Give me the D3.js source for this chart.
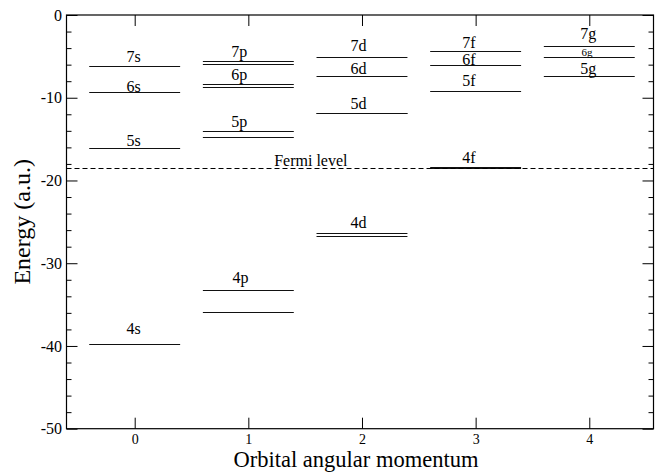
<!DOCTYPE html>
<html>
<head>
<meta charset="utf-8">
<script src="https://cdn.jsdelivr.net/npm/d3@7"></script>
<style>
  html, body { margin: 0; padding: 0; background: #fff; }
  svg { display: block; font-family: "Liberation Serif", "Times New Roman", serif; }
  text { font-family: "Liberation Serif", "Times New Roman", serif; fill: #000; }
</style>
</head>
<body>
<svg id="chart" width="655" height="472"></svg>
<script>
// Energy levels (a.u.) for each orbital angular momentum l
const sLevels = [-39.8, -16.1, -9.36, -6.17];
const pLevels = [-35.84, -33.2, -14.69, -14.04, -8.68, -8.39, -5.9, -5.6];
const dLevels = [-26.76, -26.3, -11.9, -11.8, -7.35, -5.04];
const fLevels = [-18.5, -18.4, -9.16, -6.05, -4.32];
const gLevels = [-7.35, -5.12, -3.71];
const levelsByL = [sLevels, pLevels, dLevels, fLevels, gLevels];

// Level labels: text, l position and energy of the text baseline
const labelText = ["4s", "5s", "6s", "7s", "4p", "5p", "6p", "7p", "4d", "5d", "6d", "7d", "4f", "5f", "6f", "7f", "5g", "6g", "7g"];
const labelL    = [-0.01, -0.01, -0.01, -0.01, 0.93, 0.92, 0.92, 0.92, 1.97, 1.97, 1.97, 1.97, 2.94, 2.94, 2.94, 2.94, 3.99, 3.98, 3.99];
const labelE    = [-38.6, -15.78, -9.32, -5.69, -32.4, -13.5, -7.87, -5.12, -25.7, -11.38, -7.14, -4.32, -17.84, -8.6, -6.05, -4.04, -7.14, -4.92, -2.95];
const labelSize = [16, 16, 16, 16, 16, 16, 16, 16, 16, 16, 16, 16, 16, 16, 16, 16, 16, 11, 16];

const fermiLevel = -18.45;
const fermiText = "Fermi level";
const xTicks = [0, 1, 2, 3, 4];
const yTicks = [0, -10, -20, -30, -40, -50];
const yMinorTicks = [-2, -4, -6, -8, -12, -14, -16, -18, -22, -24, -26, -28, -32, -34, -36, -38, -42, -44, -46, -48];

const margin = { left: 66.5, right: 1.5, top: 15, bottom: 43.3 };
const W = 655, H = 472;
const svg = d3.select("#chart");

const x = d3.scaleLinear().domain([-0.6, 4.565]).range([margin.left, W - margin.right]);
const y = d3.scaleLinear().domain([-50, 0]).range([H - margin.bottom, margin.top]);

const halfWidth = 0.4;
// Plain hyphen for negative tick labels
const plainNumber = d => String(d);

// Level lines, snapped to the pixel grid so close pairs read as double lines
const levels = levelsByL.flatMap((arr, l) => arr.map(e => ({ l, e })));
svg.append("g").selectAll("line").data(levels).join("line")
  .attr("x1", d => x(d.l - halfWidth))
  .attr("x2", d => x(d.l + halfWidth))
  .attr("y1", d => Math.round(y(d.e)) + 0.5)
  .attr("y2", d => Math.round(y(d.e)) + 0.5)
  .attr("stroke", "#111")
  .attr("stroke-width", 1);

// Fermi level
svg.append("line")
  .attr("x1", x.range()[0]).attr("x2", x.range()[1])
  .attr("y1", Math.round(y(fermiLevel)) + 0.5).attr("y2", Math.round(y(fermiLevel)) + 0.5)
  .attr("stroke", "#000").attr("stroke-width", 1)
  .attr("stroke-dasharray", "5,3");
svg.append("text")
  .attr("x", x(1.55)).attr("y", y(-18.2))
  .attr("text-anchor", "middle").attr("font-size", 16)
  .text(fermiText);

// Level labels
svg.append("g").selectAll("text").data(labelText).join("text")
  .attr("x", (d, i) => x(labelL[i]))
  .attr("y", (d, i) => y(labelE[i]))
  .attr("text-anchor", "middle")
  .attr("font-size", (d, i) => labelSize[i])
  .text(d => d);

// Axes: ticks point inward on all four sides
const majorLen = 11, minorLen = 5;
svg.append("g").attr("transform", `translate(${margin.left},0)`)
  .call(d3.axisLeft(y).tickValues(yTicks).tickSize(-majorLen).tickPadding(4.5).tickFormat(plainNumber))
  .call(g => g.select(".domain").remove())
  .call(g => g.selectAll("text").attr("font-size", 16));
svg.append("g").attr("transform", `translate(${margin.left},0)`)
  .call(d3.axisLeft(y).tickValues(yMinorTicks).tickSize(-minorLen).tickFormat(""))
  .call(g => g.select(".domain").remove());
svg.append("g").attr("transform", `translate(${W - margin.right},0)`)
  .call(d3.axisRight(y).tickValues(yTicks).tickSize(-majorLen).tickFormat(""))
  .call(g => g.select(".domain").remove());
svg.append("g").attr("transform", `translate(${W - margin.right},0)`)
  .call(d3.axisRight(y).tickValues(yMinorTicks).tickSize(-minorLen).tickFormat(""))
  .call(g => g.select(".domain").remove());
svg.append("g").attr("transform", `translate(0,${H - margin.bottom})`)
  .call(d3.axisBottom(x).tickValues(xTicks).tickSize(-majorLen).tickPadding(5.5).tickFormat(plainNumber))
  .call(g => g.select(".domain").remove())
  .call(g => g.selectAll("text").attr("font-size", 14));
svg.append("g").attr("transform", `translate(0,${margin.top})`)
  .call(d3.axisTop(x).tickValues(xTicks).tickSize(-majorLen).tickFormat(""))
  .call(g => g.select(".domain").remove());

svg.selectAll(".tick text").attr("fill", "#000")
  .attr("font-family", "'Liberation Serif', 'Times New Roman', serif");
svg.selectAll(".tick line").attr("stroke", "#000");

// Frame
svg.append("rect")
  .attr("x", margin.left).attr("y", margin.top)
  .attr("width", W - margin.right - margin.left)
  .attr("height", H - margin.bottom - margin.top)
  .attr("fill", "none").attr("stroke", "#000").attr("stroke-width", 1.2);

// Axis titles
svg.append("text")
  .attr("x", 356).attr("y", 467.3)
  .attr("text-anchor", "middle").attr("font-size", 22.5)
  .text("Orbital angular momentum");
svg.append("text")
  .attr("transform", `translate(30,${(margin.top + H - margin.bottom) / 2}) rotate(-90)`)
  .attr("text-anchor", "middle").attr("font-size", 24)
  .text("Energy (a.u.)");
</script>
</body>
</html>
